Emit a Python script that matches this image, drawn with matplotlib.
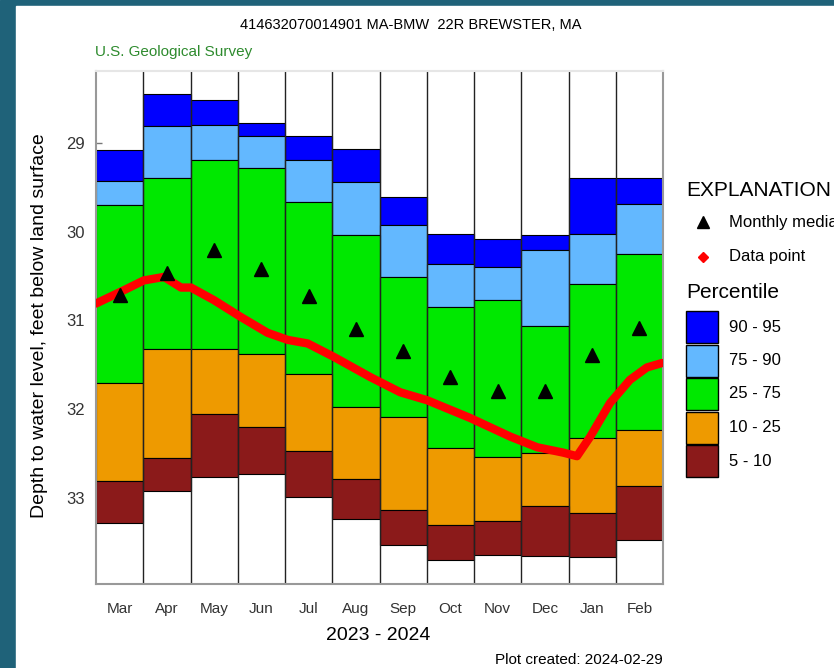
import numpy as np
import matplotlib.pyplot as plt
from matplotlib.patches import Rectangle

plt.rcParams['font.family'] = ['Liberation Sans', 'DejaVu Sans']

months = ['Mar', 'Apr', 'May', 'Jun', 'Jul', 'Aug', 'Sep', 'Oct', 'Nov', 'Dec', 'Jan', 'Feb']
# percentile depths (feet below land surface)
p95 = [29.08, 28.45, 28.52, 28.78, 28.92, 29.07, 29.61, 30.03, 30.08, 30.04, 29.39, 29.39]
p90 = [29.43, 28.81, 28.80, 28.92, 29.19, 29.44, 29.93, 30.37, 30.40, 30.21, 30.03, 29.69]
p75 = [29.70, 29.40, 29.19, 29.28, 29.67, 30.04, 30.51, 30.85, 30.77, 31.06, 30.59, 30.25]
p25 = [31.71, 31.32, 31.32, 31.38, 31.60, 31.98, 32.09, 32.44, 32.54, 32.49, 32.33, 32.24]
p10 = [32.81, 32.55, 32.05, 32.20, 32.47, 32.79, 33.14, 33.31, 33.26, 33.09, 33.17, 32.87]
p05 = [33.28, 32.92, 32.76, 32.73, 32.99, 33.24, 33.53, 33.70, 33.64, 33.65, 33.67, 33.47]
medians = [30.71, 30.47, 30.21, 30.42, 30.73, 31.10, 31.35, 31.64, 31.79, 31.79, 31.39, 31.08]

# daily data, x in months since Mar 1 2023
data_t = [0.0, 0.59, 1.01, 1.44, 1.80, 2.01, 2.49, 3.06, 3.63, 4.06, 4.48, 5.03, 5.81,
          6.44, 7.01, 7.92, 8.77, 9.34, 9.89, 10.18, 10.46, 10.88, 11.30, 11.66, 11.98]
data_v = [30.81, 30.66, 30.55, 30.51, 30.63, 30.63, 30.77, 30.96, 31.14, 31.22, 31.26, 31.41, 31.64,
          31.81, 31.90, 32.10, 32.31, 32.43, 32.49, 32.53, 32.31, 31.93, 31.67, 31.53, 31.48]

pct_labels = ['90 - 95', '75 - 90', '25 - 75', '10 - 25', '5 - 10']
pct_colors = ['#0000ff', '#63b8ff', '#00e800', '#ee9a00', '#8b1a1a']

W, H = 834, 668
fig = plt.figure(figsize=(W / 100, H / 100), dpi=100)

# background frame + legend layer in pixel coords
ov = fig.add_axes([0, 0, 1, 1])
ov.set_xlim(0, W)
ov.set_ylim(H, 0)
ov.axis('off')
ov.set_zorder(-1)
ov.add_patch(Rectangle((0, 0), W, H, color='#1f6279'))
ov.add_patch(Rectangle((16, 6), W - 16, H - 6, color='white'))

ax = fig.add_axes([96 / W, 1 - 584 / H, (663 - 96) / W, (584 - 71) / H])
x = np.arange(12) + 0.5
bands = [(p95, p90), (p90, p75), (p75, p25), (p25, p10), (p10, p05)]
for (top, bot), c in zip(bands, pct_colors):
    top = np.array(top)
    bot = np.array(bot)
    ax.bar(x, bot - top, bottom=top, width=1, color=c, edgecolor='black', linewidth=0.8, zorder=2)
ax.vlines(np.arange(1, 12), 28.19, 33.97, color='#222222', lw=1, zorder=2.5)

ax.plot(data_t, data_v, color='red', lw=6, solid_capstyle='round', zorder=3)
ax.plot(x, medians, '^', color='black', ms=10, zorder=4)

ax.set_xlim(0, 12)
ax.set_ylim(33.97, 28.19)
ax.set_yticks([29, 30, 31, 32, 33])
ax.tick_params(axis='y', direction='in', length=4.5, width=1, color='#777777',
               labelsize=12, labelcolor='#333333', pad=8)
ax.set_xticks(x)
ax.set_xticklabels(months)
ax.tick_params(axis='x', length=0, labelsize=11, labelcolor='#333333', pad=13)
for s in ['left', 'bottom', 'right']:
    ax.spines[s].set_color('#999999')
    ax.spines[s].set_linewidth(1.5)
ax.spines['top'].set_color('#e6e6e6')
ax.spines['top'].set_linewidth(1.5)

fig.text(411 / W, 1 - 25 / H, '414632070014901 MA-BMW  22R BREWSTER, MA', ha='center', va='center', fontsize=10.5)
fig.text(95 / W, 1 - 52 / H, 'U.S. Geological Survey', ha='left', va='center', fontsize=11, color='#2e8b2e')
fig.text(40 / W, 1 - 326 / H, 'Depth to water level, feet below land surface', rotation=90,
         ha='center', va='center', fontsize=14)
fig.text(378 / W, 1 - 636 / H, '2023 - 2024', ha='center', va='center', fontsize=14)
fig.text(663 / W, 1 - 660 / H, 'Plot created: 2024-02-29', ha='right', va='center', fontsize=11)

# explanation
ov.text(686, 190, 'EXPLANATION', ha='left', va='center', fontsize=15)
ov.plot(703, 222, '^', color='black', ms=9)
ov.text(729, 223, 'Monthly median', ha='left', va='center', fontsize=12)
ov.plot(703, 257, 'D', color='red', ms=5)
ov.text(729, 257, 'Data point', ha='left', va='center', fontsize=12)
ov.text(686, 293, 'Percentile', ha='left', va='center', fontsize=15)
for i, (lab, c) in enumerate(zip(pct_labels, pct_colors)):
    y0 = 311 + i * 33.5
    ov.add_patch(Rectangle((686, y0), 32, 32, facecolor=c, edgecolor='black', lw=1))
    ov.text(729, y0 + 16, lab, ha='left', va='center', fontsize=12)

fig.savefig('out.png', dpi=100)
